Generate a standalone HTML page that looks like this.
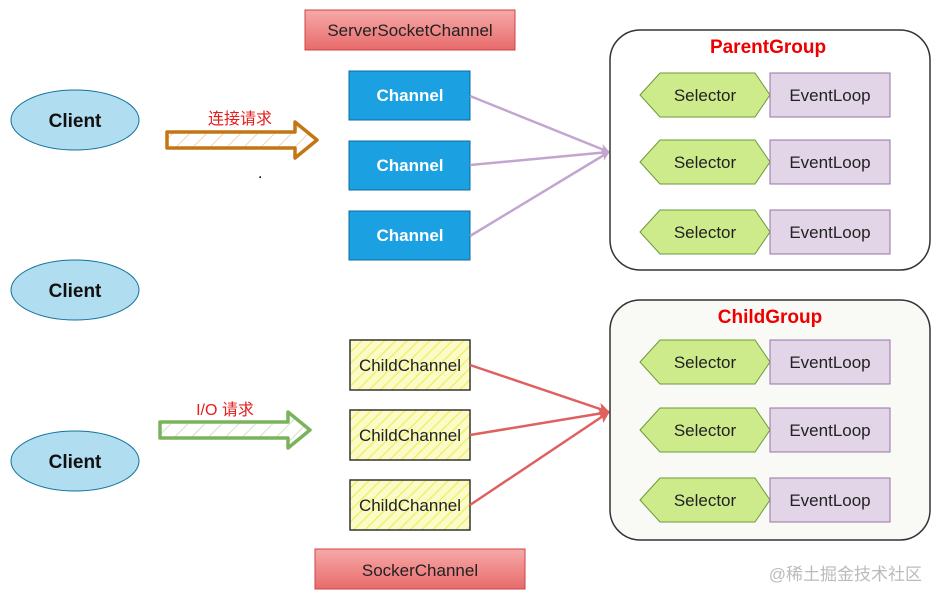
<!DOCTYPE html>
<html><head><meta charset="utf-8"><style>
html,body{margin:0;padding:0;background:#fff;}
svg{display:block;font-family:"Liberation Sans","Noto Sans CJK SC",sans-serif;}
</style></head><body>
<svg width="941" height="601" viewBox="0 0 941 601" xmlns="http://www.w3.org/2000/svg">
<defs>
<linearGradient id="rg" x1="0" y1="0" x2="0" y2="1"><stop offset="0" stop-color="#f7a9a9"/><stop offset="1" stop-color="#e86b6b"/></linearGradient>
<pattern id="hy" width="8" height="8" patternUnits="userSpaceOnUse" patternTransform="rotate(45)"><rect width="8" height="8" fill="#fbfbc8"/><line x1="0" y1="0" x2="0" y2="8" stroke="#f0f070" stroke-width="3"/></pattern>
<pattern id="ho" width="12" height="12" patternUnits="userSpaceOnUse" patternTransform="rotate(45)"><rect width="12" height="12" fill="#fff"/><line x1="0" y1="0" x2="0" y2="12" stroke="#f5d3b0" stroke-width="2"/></pattern>
<pattern id="hg" width="12" height="12" patternUnits="userSpaceOnUse" patternTransform="rotate(45)"><rect width="12" height="12" fill="#fff"/><line x1="0" y1="0" x2="0" y2="12" stroke="#cfe3c3" stroke-width="2"/></pattern>
<marker id="ap" markerWidth="10" markerHeight="10" refX="9" refY="5" orient="auto" markerUnits="userSpaceOnUse"><path d="M0,0 L10,5 L0,10 L3,5z" fill="#c3a6cf"/></marker>
<marker id="ar" markerWidth="12" markerHeight="12" refX="11" refY="6" orient="auto" markerUnits="userSpaceOnUse"><path d="M0,0 L12,6 L0,12 L3,6z" fill="#e06060"/></marker>
</defs>

<!-- clients -->
<g fill="#b1ddf0" stroke="#10739e" stroke-width="1">
<ellipse cx="75" cy="120" rx="64" ry="30"/><ellipse cx="75" cy="290" rx="64" ry="30"/><ellipse cx="75" cy="461" rx="64" ry="30"/>
</g>
<g font-weight="bold" font-size="19" text-anchor="middle" fill="#111">
<text x="75" y="127">Client</text><text x="75" y="297">Client</text><text x="75" y="468">Client</text>
</g>

<!-- arrows -->
<path d="M167,132 L295,132 L295,122 L317,140 L295,158 L295,148 L167,148Z" fill="url(#ho)" stroke="#c27614" stroke-width="3.5" stroke-linejoin="round"/>
<text x="240" y="124" font-size="16" fill="#e51c1c" text-anchor="middle">连接请求</text>
<path d="M160,422 L288,422 L288,412 L310,430 L288,448 L288,438 L160,438Z" fill="url(#hg)" stroke="#7bb35c" stroke-width="3.5" stroke-linejoin="round"/>
<text x="225" y="415" font-size="16" fill="#e51c1c" text-anchor="middle">I/O 请求</text>
<text x="258" y="178" font-size="16" fill="#000">.</text>

<!-- server socket labels -->
<rect x="305" y="10" width="210" height="40" fill="url(#rg)" stroke="#c44" stroke-width="1"/>
<text x="410" y="36" font-size="17" text-anchor="middle" fill="#222">ServerSocketChannel</text>
<rect x="315" y="549" width="210" height="40" fill="url(#rg)" stroke="#c44" stroke-width="1"/>
<text x="420" y="576" font-size="17" text-anchor="middle" fill="#222">SockerChannel</text>

<!-- channels -->
<g fill="#1ba1e2" stroke="#0a6aa0" stroke-width="1">
<rect x="349" y="71" width="121" height="49"/><rect x="349" y="141" width="121" height="49"/><rect x="349" y="211" width="121" height="49"/>
</g>
<g font-weight="bold" font-size="17" fill="#fff" text-anchor="middle">
<text x="410" y="101">Channel</text><text x="410" y="171">Channel</text><text x="410" y="241">Channel</text>
</g>
<g stroke="#c3a6cf" stroke-width="2.5" fill="none">
<line x1="470" y1="96" x2="609" y2="152" marker-end="url(#ap)"/>
<line x1="470" y1="165" x2="609" y2="152" marker-end="url(#ap)"/>
<line x1="470" y1="236" x2="609" y2="152" marker-end="url(#ap)"/>
</g>

<!-- child channels -->
<g fill="url(#hy)" stroke="#333" stroke-width="1.5">
<rect x="350" y="340" width="120" height="50"/><rect x="350" y="410" width="120" height="50"/><rect x="350" y="480" width="120" height="50"/>
</g>
<g font-size="17" fill="#222" text-anchor="middle">
<text x="410" y="371">ChildChannel</text><text x="410" y="441">ChildChannel</text><text x="410" y="511">ChildChannel</text>
</g>
<g stroke="#e06060" stroke-width="2.5" fill="none">
<line x1="470" y1="365" x2="609" y2="412" marker-end="url(#ar)"/>
<line x1="470" y1="435" x2="609" y2="412" marker-end="url(#ar)"/>
<line x1="470" y1="505" x2="609" y2="412" marker-end="url(#ar)"/>
</g>

<!-- groups -->
<rect x="610" y="30" width="320" height="240" rx="30" fill="#fff" stroke="#333" stroke-width="1.5"/>
<text x="768" y="53" font-size="19" font-weight="bold" fill="#ee0000" text-anchor="middle">ParentGroup</text>
<rect x="610" y="300" width="320" height="240" rx="30" fill="#f9f9f5" stroke="#333" stroke-width="1.5"/>
<text x="770" y="323" font-size="19" font-weight="bold" fill="#ee0000" text-anchor="middle">ChildGroup</text>

<g font-size="17" fill="#222" text-anchor="middle">
<g transform="translate(0,95)"><path d="M640,0 L660,-22 L755,-22 L770,0 L755,22 L660,22Z" fill="#cdeb8b" stroke="#6a9a3a"/><rect x="770" y="-22" width="120" height="44" fill="#e1d5e7" stroke="#9673a6"/><text x="705" y="6">Selector</text><text x="830" y="6">EventLoop</text></g>
<g transform="translate(0,162)"><path d="M640,0 L660,-22 L755,-22 L770,0 L755,22 L660,22Z" fill="#cdeb8b" stroke="#6a9a3a"/><rect x="770" y="-22" width="120" height="44" fill="#e1d5e7" stroke="#9673a6"/><text x="705" y="6">Selector</text><text x="830" y="6">EventLoop</text></g>
<g transform="translate(0,232)"><path d="M640,0 L660,-22 L755,-22 L770,0 L755,22 L660,22Z" fill="#cdeb8b" stroke="#6a9a3a"/><rect x="770" y="-22" width="120" height="44" fill="#e1d5e7" stroke="#9673a6"/><text x="705" y="6">Selector</text><text x="830" y="6">EventLoop</text></g>
<g transform="translate(0,362)"><path d="M640,0 L660,-22 L755,-22 L770,0 L755,22 L660,22Z" fill="#cdeb8b" stroke="#6a9a3a"/><rect x="770" y="-22" width="120" height="44" fill="#e1d5e7" stroke="#9673a6"/><text x="705" y="6">Selector</text><text x="830" y="6">EventLoop</text></g>
<g transform="translate(0,430)"><path d="M640,0 L660,-22 L755,-22 L770,0 L755,22 L660,22Z" fill="#cdeb8b" stroke="#6a9a3a"/><rect x="770" y="-22" width="120" height="44" fill="#e1d5e7" stroke="#9673a6"/><text x="705" y="6">Selector</text><text x="830" y="6">EventLoop</text></g>
<g transform="translate(0,500)"><path d="M640,0 L660,-22 L755,-22 L770,0 L755,22 L660,22Z" fill="#cdeb8b" stroke="#6a9a3a"/><rect x="770" y="-22" width="120" height="44" fill="#e1d5e7" stroke="#9673a6"/><text x="705" y="6">Selector</text><text x="830" y="6">EventLoop</text></g>
</g>

<text x="922" y="580" font-size="17" fill="#bbb" text-anchor="end">@稀土掘金技术社区</text>
</svg>
</body></html>
